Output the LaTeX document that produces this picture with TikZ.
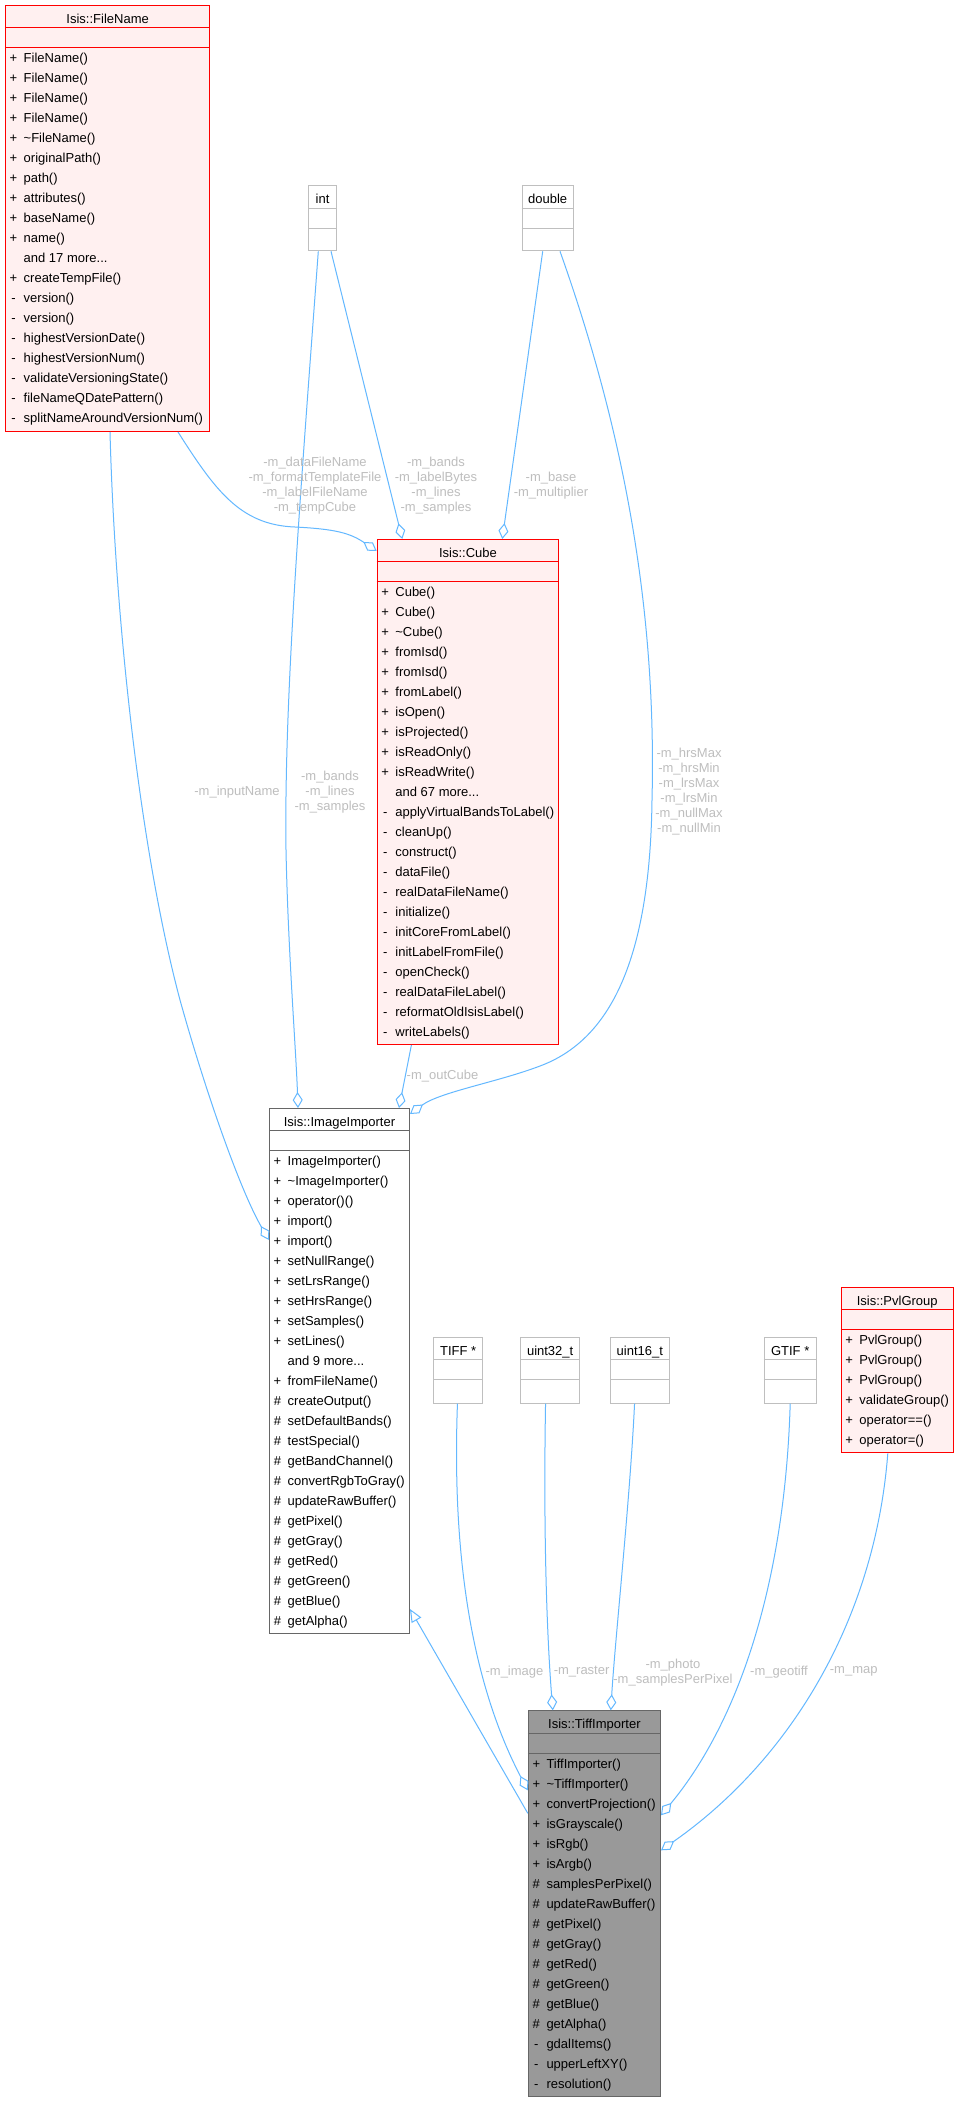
\documentclass[tikz,border=0pt]{standalone}
\usepackage{fontspec}
\setmainfont{Liberation Sans}
\usetikzlibrary{arrows.meta,calc}
\definecolor{edgeblue}{HTML}{63B8FF}
\definecolor{lblgrey}{HTML}{BEBEBE}
\definecolor{redline}{HTML}{FF0000}
\definecolor{pinkfill}{HTML}{FFF0F0}
\definecolor{darkline}{HTML}{666666}
\definecolor{greyfill}{HTML}{999999}
\definecolor{typeline}{HTML}{BFBFBF}
\newcommand{\mdots}{...}
\tikzset{
  txt/.style={font=\fontsize{13pt}{15pt}\selectfont, inner sep=0pt, text=black},
  lbl/.style={font=\fontsize{13pt}{15pt}\selectfont, inner sep=0pt, text=lblgrey, align=center},
  conn/.style={draw=edgeblue, line width=1pt},
  agg/.style={conn, -{Diamond[open,length=16pt,width=10pt]}},
  inh/.style={conn, -{Triangle[open,length=13pt,width=11pt]}},
}
% #1 name #2 line colour #3 fill colour #4 left #5 top #6 right #7 bottom #8 title bottom #9 attr bottom
\newcommand{\classbox}[9]{%
  \node[draw=#2, fill=#3, line width=1pt, inner sep=0pt, anchor=north west,
        minimum width={(#6)-(#4)}, minimum height={(#7)-(#5)}] (#1) at (#4,#5) {};
  \draw[#2, line width=1pt] ($(#1.north west)+(0,{(#8)-(#5)})$) -- ($(#1.north east)+(0,{(#8)-(#5)})$);
  \draw[#2, line width=1pt] ($(#1.north west)+(0,{(#9)-(#5)})$) -- ($(#1.north east)+(0,{(#9)-(#5)})$);
}
\newcommand{\boxtitle}[2]{%
  \node[txt, anchor=base] (#1-t) at ($(#1.north)+(0,18.5)$) {#2};
}
\newcommand{\members}[2]{%
  \foreach \s/\m [count=\i from 0] in {#2} {
    \node[txt, anchor=base] (#1-s\i) at ($(#1.north west)+(8.5,{57.7+20*\i})$) {\s};
    \node[txt, anchor=base west] (#1-m\i) at ($(#1.north west)+(18.5,{57.7+20*\i})$) {\m};
  }%
}
\begin{document}
\begin{tikzpicture}[x=1pt,y=-1pt]
\fill[white] (0,0) rectangle (958,2101);
\useasboundingbox (0,0) rectangle (958,2101);

% ---------- boxes ----------
\classbox{fn}{redline}{pinkfill}{5}{5}{209.3}{431}{28}{48}
\boxtitle{fn}{Isis::FileName}
\members{fn}{+/FileName(), +/FileName(), +/FileName(), +/FileName(), +/\textasciitilde FileName(),
  +/originalPath(), +/path(), +/attributes(), +/baseName(), +/name(), {}/and 17 more\mdots,
  +/createTempFile(), -/version(), -/version(), -/highestVersionDate(), -/highestVersionNum(),
  -/validateVersioningState(), -/fileNameQDatePattern(), -/splitNameAroundVersionNum()}

\classbox{int}{typeline}{white}{308.3}{185}{335.7}{250.3}{208.3}{228.3}
\boxtitle{int}{int}
\classbox{dbl}{typeline}{white}{521.7}{185}{572.7}{250.3}{208.3}{228.3}
\boxtitle{dbl}{double}

\classbox{cube}{redline}{pinkfill}{376.7}{539}{558.3}{1044}{561.5}{581.5}
\boxtitle{cube}{Isis::Cube}
\members{cube}{+/Cube(), +/Cube(), +/\textasciitilde Cube(), +/fromIsd(), +/fromIsd(), +/fromLabel(),
  +/isOpen(), +/isProjected(), +/isReadOnly(), +/isReadWrite(), {}/and 67 more\mdots,
  -/applyVirtualBandsToLabel(), -/cleanUp(), -/construct(), -/dataFile(), -/realDataFileName(),
  -/initialize(), -/initCoreFromLabel(), -/initLabelFromFile(), -/openCheck(), -/realDataFileLabel(),
  -/reformatOldIsisLabel(), -/writeLabels()}

\classbox{ii}{darkline}{white}{269}{1108}{409}{1633}{1130.7}{1150.7}
\boxtitle{ii}{Isis::ImageImporter}
\members{ii}{+/ImageImporter(), +/\textasciitilde ImageImporter(), +/operator()(), +/import(), +/import(),
  +/setNullRange(), +/setLrsRange(), +/setHrsRange(), +/setSamples(), +/setLines(), {}/and 9 more\mdots,
  +/fromFileName(), \#/createOutput(), \#/setDefaultBands(), \#/testSpecial(), \#/getBandChannel(),
  \#/convertRgbToGray(), \#/updateRawBuffer(), \#/getPixel(), \#/getGray(), \#/getRed(), \#/getGreen(),
  \#/getBlue(), \#/getAlpha()}

\classbox{tiff}{typeline}{white}{433.1}{1336.7}{482.2}{1402.7}{1359.3}{1379.3}
\boxtitle{tiff}{TIFF *}
\classbox{u32}{typeline}{white}{520.3}{1336.7}{579}{1402.7}{1359.3}{1379.3}
\boxtitle{u32}{uint32\_t}
\classbox{u16}{typeline}{white}{610}{1336.7}{668.7}{1402.7}{1359.3}{1379.3}
\boxtitle{u16}{uint16\_t}
\classbox{gtif}{typeline}{white}{763.7}{1336.7}{815.7}{1402.7}{1359.3}{1379.3}
\boxtitle{gtif}{GTIF *}

\classbox{pvl}{redline}{pinkfill}{840.7}{1286.7}{952.7}{1452.3}{1309.5}{1329.5}
\boxtitle{pvl}{Isis::PvlGroup}
\members{pvl}{+/PvlGroup(), +/PvlGroup(), +/PvlGroup(), +/validateGroup(), +/operator==(), +/operator=()}

\classbox{ti}{darkline}{greyfill}{527.8}{1710.3}{660}{2095.5}{1733}{1753}
\boxtitle{ti}{Isis::TiffImporter}
\members{ti}{+/TiffImporter(), +/\textasciitilde TiffImporter(), +/convertProjection(), +/isGrayscale(),
  +/isRgb(), +/isArgb(), \#/samplesPerPixel(), \#/updateRawBuffer(), \#/getPixel(), \#/getGray(),
  \#/getRed(), \#/getGreen(), \#/getBlue(), \#/getAlpha(), -/gdalItems(), -/upperLeftXY(), -/resolution()}

% ---------- connectors ----------
\draw[agg] ($(fn.south west)+(173,0)$) .. controls (215,490) and (240,525) .. (295,527)
  .. controls (335,529) and (350,533) .. ($(cube.north west)+(0,12)$);
\draw[agg] ($(int.south east)+(-5.7,0)$) -- ($(cube.north west)+(25.6,0)$);
\draw[agg] ($(dbl.south west)+(21,0)$) -- ($(cube.north west)+(125.6,0)$);
\draw[agg] ($(dbl.south west)+(38.3,0)$) .. controls (620,420) and (657,600) .. (652,800)
  .. controls (650,960) and (610,1040) .. (540,1066)
  .. controls (498,1082) and (440,1092) .. ($(ii.north east)+(0,6)$);
\draw[agg] ($(fn.south west)+(105,0)$) .. controls (115,620) and (140,850) .. (180,1000)
  .. controls (205,1090) and (240,1190) .. ($(ii.north west)+(0,132)$);
\draw[agg] ($(int.south west)+(10,0)$) .. controls (300,500) and (284,700) .. (286,850)
  .. controls (288,950) and (296,1050) .. ($(ii.north west)+(29,0)$);
\draw[agg] ($(cube.south west)+(34.7,0)$) -- ($(ii.north west)+(130,0)$);
\draw[inh] ($(ti.north west)+(0,103)$) -- ($(ii.south east)+(0,-25)$);
\draw[agg] ($(tiff.south)+(-0.7,0)$) .. controls (452,1550) and (470,1680) .. ($(ti.north west)+(0,80)$);
\draw[agg] ($(u32.south)+(-4.6,0)$) .. controls (543,1550) and (548,1650) .. ($(ti.north west)+(25,0)$);
\draw[agg] ($(u16.south)+(-5.3,0)$) .. controls (630,1500) and (615,1640) .. ($(ti.north west)+(83,0)$);
\draw[agg] (gtif.south) .. controls (785,1580) and (740,1720) .. ($(ti.north east)+(0,105)$);
\draw[agg] ($(pvl.south)+(-9.4,0)$) .. controls (875,1620) and (790,1760) .. ($(ti.north east)+(0,140)$);

% ---------- labels ----------
\node[lbl] (l1) at (315,485.2) {-m\_dataFileName\\-m\_formatTemplateFile\\-m\_labelFileName\\-m\_tempCube};
\node[lbl] (l2) at (436,485.2) {-m\_bands\\-m\_labelBytes\\-m\_lines\\-m\_samples};
\node[lbl] (l3) at (551,485.2) {-m\_base\\-m\_multiplier};
\node[lbl] (l4) at (689,791.8) {-m\_hrsMax\\-m\_hrsMin\\-m\_lrsMax\\-m\_lrsMin\\-m\_nullMax\\-m\_nullMin};
\node[lbl] (l5) at (237,791.7) {-m\_inputName};
\node[lbl] (l6) at (330,791.7) {-m\_bands\\-m\_lines\\-m\_samples};
\node[lbl] (l7) at (442.5,1076) {-m\_outCube};
\node[lbl] (l8) at (514.5,1671.7) {-m\_image};
\node[lbl] (l9) at (581.6,1671.7) {-m\_raster};
\node[lbl] (l10) at (673,1672.3) {-m\_photo\\-m\_samplesPerPixel};
\node[lbl] (l11) at (779,1671.7) {-m\_geotiff};
\node[lbl] (l12) at (853.7,1671.7) {-m\_map};
\end{tikzpicture}
\end{document}
